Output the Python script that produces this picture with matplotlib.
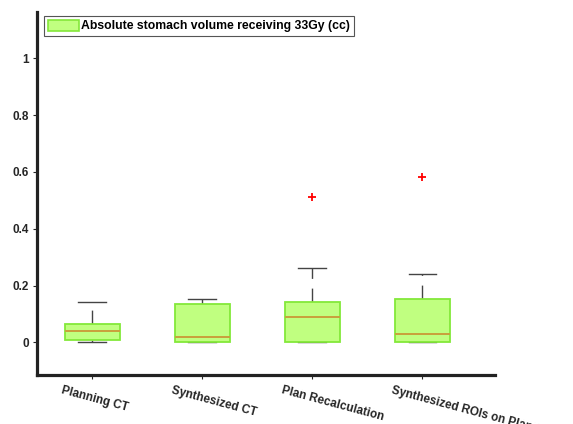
import matplotlib
matplotlib.use("Agg")
import matplotlib.pyplot as plt
import matplotlib.transforms as mtransforms
from matplotlib.patches import Patch

plt.rcParams['font.family'] = ['Liberation Sans', 'DejaVu Sans']

categories = ["Planning CT", "Synthesized CT", "Plan Recalculation",
              "Synthesized ROIs on Planning CT"]
q1 = [0.007, 0.0, 0.0, 0.0]
medians = [0.041, 0.019, 0.090, 0.030]
q3 = [0.0655, 0.136, 0.141, 0.151]
whisker_low = [0.0, 0.0, 0.0, 0.0]
whisker_high = [0.141, 0.151, 0.262, 0.240]
outliers = [[], [], [0.512], [0.582]]
legend_label = "Absolute stomach volume receiving 33Gy (cc)"
yticks = [0, 0.2, 0.4, 0.6, 0.8, 1.0]
yticklabels = ["0", "0.2", "0.4", "0.6", "0.8", "1"]

stats = []
for i, name in enumerate(categories):
    stats.append(dict(label=name, q1=q1[i], med=medians[i], q3=q3[i],
                      whislo=whisker_low[i], whishi=whisker_high[i],
                      fliers=outliers[i]))

fig = plt.figure(figsize=(5.73, 4.24), dpi=100)
ax = fig.add_axes([37/573, 1-375/424, (495-37)/573, (375-12)/424])

positions = list(range(1, len(categories) + 1))
bp = ax.bxp(stats, positions=positions, widths=0.5, patch_artist=True,
            capwidths=0.25,
            boxprops=dict(facecolor='#c0ff80', edgecolor='#84e83a', linewidth=1.3, zorder=3),
            medianprops=dict(color='#c9a03c', linewidth=1.4, zorder=4),
            whiskerprops=dict(color='#444444', linewidth=1.0, linestyle=(0, (10, 7)), zorder=2),
            capprops=dict(color='#444444', linewidth=1.0, zorder=2),
            flierprops=dict(marker='+', markeredgecolor='red', markersize=6,
                            markeredgewidth=1.3, linestyle='none'))

ax.set_xlim(0.5, 4.66)
ax.set_ylim(-0.115, 1.163)
ax.tick_params(direction='out', length=3, width=0.8, color='#262626', pad=3)
ax.set_yticks(yticks)
ax.set_yticklabels(yticklabels)
ax.set_xticks(positions)
ax.set_xticklabels(categories, rotation=-15, ha='left', va='top',
                   rotation_mode='anchor')
offset = mtransforms.ScaledTranslation(-29/100, -1/100, fig.dpi_scale_trans)
for lab in ax.get_xticklabels():
    lab.set_transform(lab.get_transform() + offset)

for lab in ax.get_xticklabels() + ax.get_yticklabels():
    lab.set_fontweight('bold')
    lab.set_fontsize(8.5)
    lab.set_color('#262626')

for s in ['top', 'right']:
    ax.spines[s].set_visible(False)
for s in ['left', 'bottom']:
    ax.spines[s].set_linewidth(2.3)
    ax.spines[s].set_color('#222222')

handle = Patch(facecolor='#c0ff80', edgecolor='#84e83a', linewidth=1.2)
leg = ax.legend([handle], [legend_label], loc='upper left',
                bbox_to_anchor=(0.015, 0.989), borderaxespad=0,
                fancybox=False, framealpha=1, edgecolor='#555555',
                handlelength=2.6, handleheight=1.0, handletextpad=0.15,
                borderpad=0.3, prop=dict(weight='bold', size=8.8))
leg.get_frame().set_linewidth(0.8)

fig.savefig("out.png", dpi=100)
